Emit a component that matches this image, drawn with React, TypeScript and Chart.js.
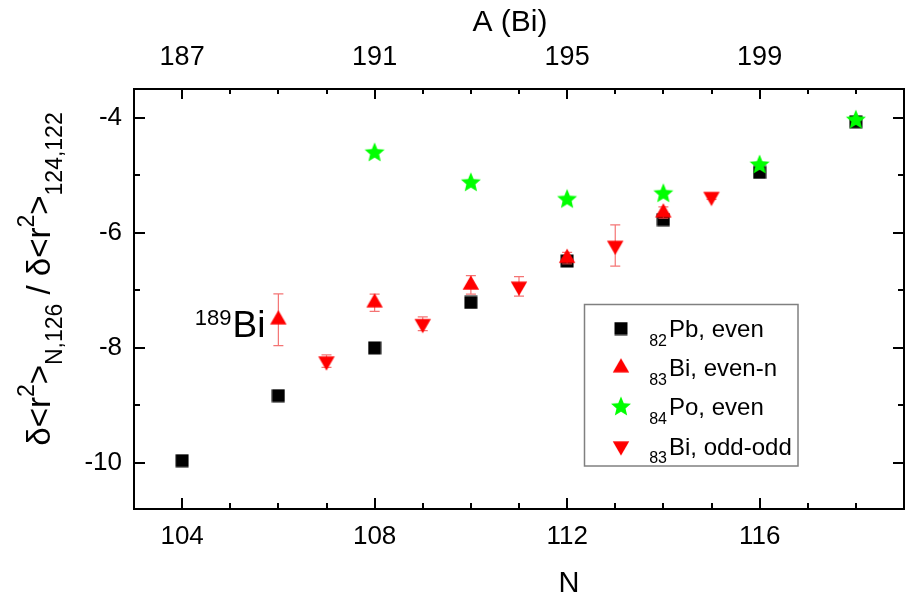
import React, { useEffect, useRef } from "react";
import { Chart, registerables } from "chart.js";

Chart.register(...registerables);

const FONT = '"Liberation Sans", Arial, Helvetica, sans-serif';

// Neutron number N and the ratio δ<r²>N,126 / δ<r²>124,122 for each chain
const pbN = [104, 106, 108, 110, 112, 114, 116, 118];
const pbEven = [-9.96, -8.83, -8.0, -7.21, -6.49, -5.77, -4.95, -4.07];

const biEvenN = [106, 108, 110, 112, 114];
const biEven = [-7.51, -7.215, -6.905, -6.44, -5.65];
const biEvenErr = [0.45, 0.15, 0.16, 0.1, 0.1];

const poN = [108, 110, 112, 114, 116, 118];
const poEven = [-4.61, -5.13, -5.42, -5.32, -4.82, -4.04];

const biOddN = [107, 109, 111, 113, 115];
const biOdd = [-8.23, -7.58, -6.93, -6.22, -5.37];
const biOddErr = [0.11, 0.12, 0.17, 0.36, 0.05];

// Axis ticks
const nTicks = [104, 108, 112, 116];
const aTicks = [187, 191, 195, 199];
const zBi = 83; // A(Bi) = N + 83
const yTicks = [-10, -8, -6, -4];

type MarkerKind = "square" | "up" | "down" | "star";

function traceMarker(g: CanvasRenderingContext2D, kind: MarkerKind) {
  g.beginPath();
  if (kind === "square") {
    g.rect(-6.5, -6.5, 13, 13);
  } else if (kind === "up" || kind === "down") {
    const r = 9.5;
    const s = kind === "up" ? 1 : -1;
    g.moveTo(0, -s * r);
    g.lineTo(r * 0.866, (s * r) / 2);
    g.lineTo(-r * 0.866, (s * r) / 2);
    g.closePath();
  } else {
    const R = 10.5;
    const ri = R * 0.45;
    for (let k = 0; k < 10; k++) {
      const ang = -Math.PI / 2 + (k * Math.PI) / 5;
      const rr = k % 2 ? ri : R;
      const px = Math.cos(ang) * rr;
      const py = Math.sin(ang) * rr;
      if (k === 0) g.moveTo(px, py);
      else g.lineTo(px, py);
    }
    g.closePath();
  }
}

function makeMarker(kind: MarkerKind, color: string): HTMLCanvasElement {
  const c = document.createElement("canvas");
  const size = kind === "square" ? 14 : kind === "star" ? 24 : 20;
  c.width = size;
  c.height = size;
  const g = c.getContext("2d")!;
  g.translate(size / 2, size / 2);
  traceMarker(g, kind);
  g.fillStyle = color;
  g.fill();
  return c;
}

type Run = { text: string; size: number; shift: number };

function runsWidth(ctx: CanvasRenderingContext2D, runs: Run[]) {
  let w = 0;
  for (const r of runs) {
    ctx.font = `${r.size}px ${FONT}`;
    w += ctx.measureText(r.text).width;
  }
  return w;
}

function drawRuns(ctx: CanvasRenderingContext2D, runs: Run[], x: number, y: number) {
  let cx = x;
  for (const r of runs) {
    ctx.font = `${r.size}px ${FONT}`;
    ctx.fillText(r.text, cx, y + r.shift);
    cx += ctx.measureText(r.text).width;
  }
}

// Frame with inward major/minor ticks on all four sides, plus N and A(Bi) tick labels
const framePlugin = {
  id: "frame",
  afterDraw(chart: any) {
    const { ctx, chartArea: a, scales } = chart;
    const xs = scales.x;
    const ys = scales.y;
    ctx.save();
    ctx.strokeStyle = "#000";
    ctx.lineWidth = 2;
    ctx.strokeRect(a.left, a.top, a.right - a.left, a.bottom - a.top);
    ctx.beginPath();
    for (let n = Math.ceil(xs.min); n <= Math.floor(xs.max); n++) {
      if (n === xs.min || n === xs.max) continue;
      const px = Math.round(xs.getPixelForValue(n));
      const major = nTicks.includes(n);
      const lb = major ? 11 : 6;
      const lt = major ? 10 : 5;
      ctx.moveTo(px, a.bottom);
      ctx.lineTo(px, a.bottom - lb);
      ctx.moveTo(px, a.top);
      ctx.lineTo(px, a.top + lt);
    }
    for (let v = Math.ceil(ys.min); v <= Math.floor(ys.max); v++) {
      const py = Math.round(ys.getPixelForValue(v));
      const major = yTicks.includes(v);
      const l = major ? 11 : 6;
      ctx.moveTo(a.left, py);
      ctx.lineTo(a.left + l, py);
      ctx.moveTo(a.right, py);
      ctx.lineTo(a.right - l, py);
    }
    ctx.stroke();

    ctx.fillStyle = "#000";
    ctx.textAlign = "center";
    ctx.textBaseline = "middle";
    ctx.font = `26px ${FONT}`;
    nTicks.forEach((n) => ctx.fillText(String(n), xs.getPixelForValue(n), a.bottom + 28));
    ctx.font = `27px ${FONT}`;
    aTicks.forEach((A) => ctx.fillText(String(A), xs.getPixelForValue(A - zBi), a.top - 31));
    ctx.restore();
  },
};

// Vertical error bars, drawn just beneath the markers of their own series
const errorBarPlugin = {
  id: "errorBars",
  beforeDatasetDraw(chart: any, args: any) {
    const ds = chart.data.datasets[args.index];
    if (!ds.errors) return;
    const { ctx, scales } = chart;
    ctx.save();
    ctx.strokeStyle = "rgba(240, 70, 70, 0.75)";
    ctx.lineWidth = 1.2;
    ctx.beginPath();
    ds.data.forEach((p: any, i: number) => {
      const e = ds.errors[i];
      const px = scales.x.getPixelForValue(p.x);
      const y1 = scales.y.getPixelForValue(p.y - e);
      const y2 = scales.y.getPixelForValue(p.y + e);
      ctx.moveTo(px, y1);
      ctx.lineTo(px, y2);
      ctx.moveTo(px - 5, y1);
      ctx.lineTo(px + 5, y1);
      ctx.moveTo(px - 5, y2);
      ctx.lineTo(px + 5, y2);
    });
    ctx.stroke();
    ctx.restore();
  },
};

export default function App() {
  const canvasRef = useRef<HTMLCanvasElement | null>(null);

  useEffect(() => {
    document.body.style.margin = "0";
    const canvas = canvasRef.current;
    if (!canvas) return;

    const squareImg = makeMarker("square", "#000000");
    const upImg = makeMarker("up", "#ff0000");
    const starImg = makeMarker("star", "#00ff00");
    const downImg = makeMarker("down", "#ff0000");

    const legendItems = [
      { img: squareImg, sub: "82", text: "Pb, even" },
      { img: upImg, sub: "83", text: "Bi, even-n" },
      { img: starImg, sub: "84", text: "Po, even" },
      { img: downImg, sub: "83", text: "Bi, odd-odd" },
    ];

    const annotationPlugin = {
      id: "annotations",
      afterDraw(chart: any) {
        const { ctx, scales } = chart;
        ctx.save();
        ctx.fillStyle = "#000";
        ctx.textBaseline = "alphabetic";

        // Axis titles
        ctx.textAlign = "center";
        ctx.font = `29px ${FONT}`;
        ctx.fillText("N", 569, 592);
        ctx.font = `30px ${FONT}`;
        ctx.fillText("A (Bi)", 510, 31);

        // Rotated y title with sub/superscripts
        ctx.textAlign = "left";
        const runs: Run[] = [
          { text: "δ<r", size: 33, shift: 0 },
          { text: "2", size: 23, shift: -16 },
          { text: ">", size: 33, shift: 0 },
          { text: "N,126", size: 23, shift: 12 },
          { text: " / δ<r", size: 33, shift: 0 },
          { text: "2", size: 23, shift: -16 },
          { text: ">", size: 33, shift: 0 },
          { text: "124,122", size: 23, shift: 12 },
        ];
        const tw = runsWidth(ctx, runs);
        ctx.save();
        ctx.translate(50, 279);
        ctx.rotate(-Math.PI / 2);
        drawRuns(ctx, runs, -tw / 2, 0);
        ctx.restore();

        // Isotope label next to the N = 106 bismuth point
        const ax = scales.x.getPixelForValue(biEvenN[0]);
        const ay = scales.y.getPixelForValue(biEven[0]);
        ctx.textAlign = "right";
        ctx.font = `37px ${FONT}`;
        const biW = ctx.measureText("Bi").width;
        const biRight = ax - 13;
        ctx.fillText("Bi", biRight, ay + 17);
        ctx.font = `22px ${FONT}`;
        ctx.fillText("189", biRight - biW - 1, ay + 5);

        // Legend
        const L = 584.5, T = 304.5, R = 798, B = 466;
        ctx.strokeStyle = "#808080";
        ctx.lineWidth = 1.5;
        ctx.strokeRect(L, T, R - L, B - T);
        legendItems.forEach((it, i) => {
          const ry = 328.5 + i * 39.2;
          ctx.drawImage(it.img, 621 - it.img.width / 2, ry - it.img.height / 2);
          ctx.textAlign = "right";
          ctx.font = `16px ${FONT}`;
          ctx.fillText(it.sub, 667, ry + 17);
          ctx.textAlign = "left";
          ctx.font = `24px ${FONT}`;
          ctx.fillText(it.text, 669, ry + 8.5);
        });
        ctx.restore();
      },
    };

    const chart = new Chart(canvas, {
      type: "scatter",
      data: {
        datasets: [
          {
            label: "82Pb, even",
            data: pbN.map((n, i) => ({ x: n, y: pbEven[i] })),
            pointStyle: squareImg,
            pointRadius: 7,
            order: 4,
          },
          {
            label: "83Bi, even-n",
            data: biEvenN.map((n, i) => ({ x: n, y: biEven[i] })),
            errors: biEvenErr,
            pointStyle: upImg,
            pointRadius: 10,
            order: 3,
          } as any,
          {
            label: "84Po, even",
            data: poN.map((n, i) => ({ x: n, y: poEven[i] })),
            pointStyle: starImg,
            pointRadius: 11,
            order: 1,
          },
          {
            label: "83Bi, odd-odd",
            data: biOddN.map((n, i) => ({ x: n, y: biOdd[i] })),
            errors: biOddErr,
            pointStyle: downImg,
            pointRadius: 10,
            order: 2,
          } as any,
        ],
      },
      options: {
        responsive: false,
        animation: false,
        devicePixelRatio: 1,
        events: [],
        layout: { autoPadding: false, padding: { left: 0, right: 2, top: 89, bottom: 0 } },
        plugins: {
          legend: { display: false },
          tooltip: { enabled: false },
        },
        scales: {
          x: {
            type: "linear",
            position: "bottom",
            min: 103,
            max: 119,
            grid: { display: false, drawTicks: false },
            border: { display: false },
            afterBuildTicks: (s: any) => {
              s.ticks = nTicks.map((v) => ({ value: v }));
            },
            afterFit: (s: any) => {
              s.height = 88;
            },
            ticks: { display: false },
          },
          y: {
            type: "linear",
            position: "left",
            min: -10.8,
            max: -3.5,
            grid: { display: false, drawTicks: false },
            border: { display: false },
            afterBuildTicks: (s: any) => {
              s.ticks = yTicks.map((v) => ({ value: v }));
            },
            afterFit: (s: any) => {
              s.width = 134;
            },
            ticks: {
              autoSkip: false,
              padding: 12,
              color: "#000",
              font: { family: FONT, size: 26 },
              callback: (v: any) => String(v),
            },
          },
        },
      } as any,
      plugins: [errorBarPlugin, framePlugin, annotationPlugin],
    });

    return () => {
      chart.destroy();
    };
  }, []);

  return (
    <div style={{ width: 906, height: 597, position: "relative" }}>
      <canvas ref={canvasRef} width={906} height={597} style={{ display: "block" }} />
    </div>
  );
}
